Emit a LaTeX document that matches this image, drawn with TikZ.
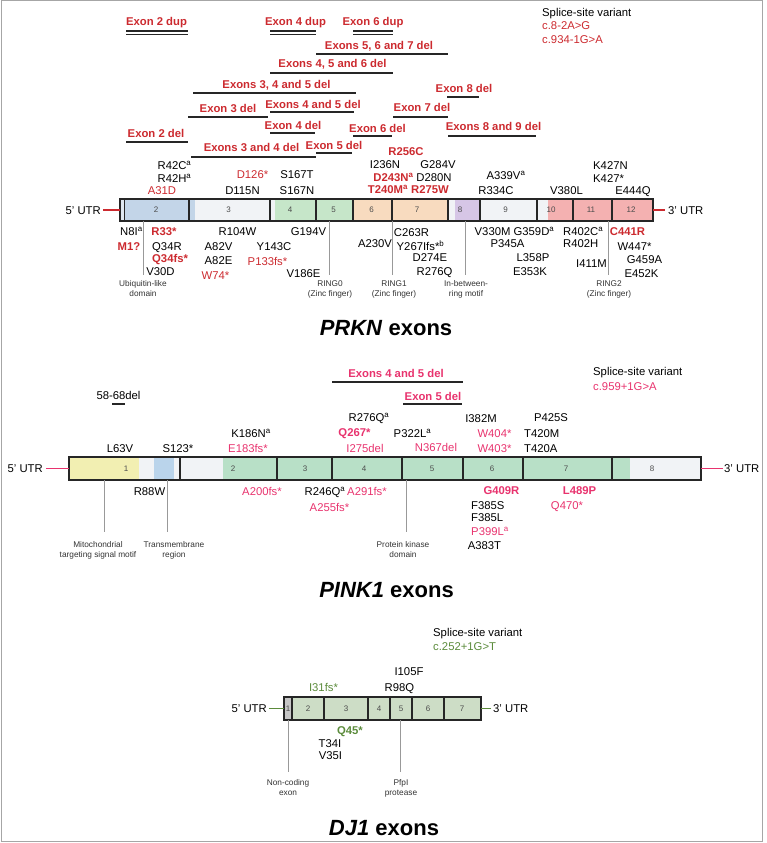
\documentclass[tikz,border=0pt]{standalone}
\usepackage{fontspec}
\setmainfont{Liberation Sans}
\definecolor{prkred}{HTML}{CC2A2F}
\definecolor{pinkc}{HTML}{E8336E}
\definecolor{dgreen}{HTML}{5B8B3B}
\definecolor{lgray}{HTML}{F1F3F6}
\definecolor{prkblue}{HTML}{C3D5E8}
\definecolor{prkgreen}{HTML}{C6E6C9}
\definecolor{prkorange}{HTML}{F8DBBF}
\definecolor{prkpurple}{HTML}{D6C6E6}
\definecolor{prkpink}{HTML}{F4B1B1}
\definecolor{pyellow}{HTML}{F2EFB2}
\definecolor{pblue}{HTML}{BAD4EB}
\definecolor{pgreen}{HTML}{B8E0C7}
\definecolor{jgreen}{HTML}{CDDDC6}
\newcommand{\suA}{\textsuperscript{a}}
\newcommand{\suB}{\textsuperscript{b}}
\begin{document}
\begin{tikzpicture}[x=1pt,y=-1pt,
  t/.style={inner sep=0pt, font=\fontsize{11.3}{13}\selectfont, text height=8.1pt, text depth=0pt},
  tr/.style={t, text=prkred},
  tbr/.style={t, text=prkred, font=\fontsize{11.3}{13}\selectfont\bfseries},
  tp/.style={t, text=pinkc},
  tbp/.style={t, text=pinkc, font=\fontsize{11.3}{13}\selectfont\bfseries},
  tg/.style={t, text=dgreen},
  tbg/.style={t, text=dgreen, font=\fontsize{11.3}{13}\selectfont\bfseries},
  dom/.style={inner sep=0pt, font=\fontsize{8.3}{10}\selectfont, text=black!80, align=center, anchor=north},
  exn/.style={inner sep=0pt, font=\fontsize{8}{9}\selectfont, text=black!70},
  ttl/.style={inner sep=0pt, font=\fontsize{22}{24}\selectfont\bfseries},
  delbar/.style={line width=1.4pt, black!85},
  dupbar/.style={line width=1.1pt, black!85},
  vline/.style={line width=0.7pt, black!40},
  bord/.style={line width=1.2pt, black!85}]
\useasboundingbox (0,0) rectangle (766,843);
\draw[gray!70, line width=1pt] (1,1) rectangle (762,841.5);

%% ================= PRKN =================
% deletions / duplications
\node[tbr] (d1) at (156.5,21) {Exon 2 dup};
\draw[dupbar] (126,31) -- (188,31); \draw[dupbar] (126,34.7) -- (188,34.7);
\node[tbr] (d2) at (295.5,21) {Exon 4 dup};
\draw[dupbar] (270,31) -- (316,31); \draw[dupbar] (270,34.7) -- (316,34.7);
\node[tbr] (d3) at (373,21) {Exon 6 dup};
\draw[dupbar] (353,31) -- (393,31); \draw[dupbar] (353,34.7) -- (393,34.7);
\node[tbr] (d4) at (379,45) {Exons 5, 6 and 7 del};
\draw[delbar] (316,54) -- (448,54);
\node[tbr] (d5) at (332.5,63) {Exons 4, 5 and 6 del};
\draw[delbar] (270,73) -- (393,73);
\node[tbr] (d6) at (276.5,84) {Exons 3, 4 and 5 del};
\draw[delbar] (193,93) -- (356,93);
\node[tbr] (d7) at (228,108) {Exon 3 del};
\draw[delbar] (188,117) -- (268,117);
\node[tbr] (d8) at (313,104) {Exons 4 and 5 del};
\draw[delbar] (270,112) -- (354,112);
\node[tbr] (d9) at (293,125) {Exon 4 del};
\draw[delbar] (270,133) -- (315,133);
\node[tbr] (d10) at (156,133) {Exon 2 del};
\draw[delbar] (126,142) -- (188,142);
\node[tbr] (d11) at (251.5,147) {Exons 3 and 4 del};
\draw[delbar] (191,157) -- (316,157);
\node[tbr] (d12) at (334,145) {Exon 5 del};
\draw[delbar] (316,153) -- (352,153);
\node[tbr] (d13) at (377.5,128) {Exon 6 del};
\draw[delbar] (353,136) -- (392,136);
\node[tbr] (d14) at (422,107) {Exon 7 del};
\draw[delbar] (393,117) -- (448,117);
\node[tbr] (d15) at (464,88) {Exon 8 del};
\draw[delbar] (447,97) -- (479,97);
\node[tbr] (d16) at (493.5,126) {Exons 8 and 9 del};
\draw[delbar] (448,136) -- (536,136);

\node[t, anchor=west] (s1) at (542,12) {Splice-site variant};
\node[tr, anchor=west] (s2) at (542,25.5) {c.8-2A>G};
\node[tr, anchor=west] (s3) at (542,39) {c.934-1G>A};

% bar
\fill[lgray!60!prkblue] (120,199) rectangle (124.3,221);
\fill[prkblue] (124.3,199) rectangle (195,221);
\fill[lgray] (195,199) rectangle (275,221);
\fill[prkgreen] (275,199) rectangle (354,221);
\fill[prkorange] (354,199) rectangle (448,221);
\fill[lgray] (448,199) rectangle (455,221);
\fill[prkpurple] (455,199) rectangle (480,221);
\fill[lgray] (480,199) rectangle (548,221);
\fill[prkpink] (548,199) rectangle (653,221);
\foreach \x in {124.3,189,270,316,353,392,448,480,537,573,612} \draw[bord] (\x,199) -- (\x,221);
\draw[bord] (120,199) rectangle (653,221);
\foreach \x/\n in {156/2,228.5/3,290/4,333.5/5,371.5/6,417/7,460/8,505.5/9,551/10,591/11,631/12}
  \node[exn] (pe\n) at (\x,210) {\n};
\node[t, anchor=east] (u5a) at (101,210) {5' UTR};
\coordinate (u5ab) at (120,210);
\draw[prkred, line width=1.6pt] ([xshift=2pt]u5a.east) -- (u5ab);
\node[t, anchor=west] (u3a) at (668,210) {3' UTR};
\coordinate (u3ab) at (653,210);
\draw[prkred, line width=1.6pt] (u3ab) -- ([xshift=-3pt]u3a.west);

% above
\node[t] (a1) at (174.5,165) {R42C\suA};
\node[t] (a2) at (174.5,178) {R42H\suA};
\node[tr] (a3) at (162,190) {A31D};
\node[tr] (a4) at (252.5,174) {D126*};
\node[t] (a5) at (242.5,190) {D115N};
\node[t] (a6) at (297,174) {S167T};
\node[t] (a7) at (297,190) {S167N};
\node[tbr] (a8) at (406,151) {R256C};
\node[t] (a9) at (385,164) {I236N};
\node[tbr] (a10) at (393.5,177) {D243N\suA};
\node[tbr] (a11) at (388,189) {T240M\suA};
\node[t] (a12) at (438,164) {G284V};
\node[t] (a13) at (434,177) {D280N};
\node[tbr] (a14) at (430,189) {R275W};
\node[t] (a15) at (506,175) {A339V\suA};
\node[t] (a16) at (496,190) {R334C};
\node[t] (a17) at (566.5,190) {V380L};
\node[t, anchor=west] (a18) at (593,165) {K427N};
\node[t, anchor=west] (a19) at (593,178) {K427*};
\node[t] (a20) at (633,190) {E444Q};

% below
\node[t, anchor=west] (b1) at (120,231) {N8I\suA};
\node[tbr] (b2) at (129,246) {M1?};
\node[tbr] (b3) at (164,231) {R33*};
\node[t, anchor=west] (b4) at (152,246) {Q34R};
\node[tbr, anchor=west] (b5) at (152,258.5) {Q34fs*};
\node[t] (b6) at (160.5,271) {V30D};
\node[t] (b7) at (237.5,231) {R104W};
\node[t] (b8) at (218.5,246) {A82V};
\node[t] (b9) at (218.5,260) {A82E};
\node[tr] (b10) at (215.5,275) {W74*};
\node[t] (b11) at (274,246) {Y143C};
\node[tr] (b12) at (267.5,261) {P133fs*};
\node[t] (b13) at (308.5,231) {G194V};
\node[t] (b14) at (303.5,273) {V186E};
\node[t] (b15) at (375,243) {A230V};
\node[t] (b16) at (411.5,232) {C263R};
\node[t] (b17) at (420.5,246) {Y267Ifs*\suB};
\node[t] (b18) at (430,257) {D274E};
\node[t] (b19) at (434.5,271) {R276Q};
\node[t] (b20) at (514.5,231) {V330M G359D\suA};
\node[t] (b21) at (507.5,243) {P345A};
\node[t] (b22) at (533,257) {L358P};
\node[t] (b23) at (530,271) {E353K};
\node[t, anchor=west] (b24) at (563,231) {R402C\suA};
\node[t, anchor=west] (b25) at (563,243) {R402H};
\node[t] (b26) at (591.5,263) {I411M};
\node[tbr] (b27) at (627.5,231) {C441R};
\node[t] (b28) at (634.5,246) {W447*};
\node[t] (b29) at (644.5,259) {G459A};
\node[t] (b30) at (641.5,273) {E452K};

% domains
\foreach \x/\nm in {143/k1,329/k2,392/k3,465/k4,608/k5}{
  \coordinate (\nm t) at (\x,221); \coordinate (\nm b) at (\x,275);
  \draw[vline] (\nm t) -- (\nm b);}
\node[dom] (m1) at (143,280.5) {Ubiquitin-like\\domain};
\node[dom] (m2) at (330,280.5) {RING0\\(Zinc finger)};
\node[dom] (m3) at (394,280.5) {RING1\\(Zinc finger)};
\node[dom] (m4) at (466,280.5) {In-between-\\ring motif};
\node[dom] (m5) at (609,280.5) {RING2\\(Zinc finger)};
\node[ttl] (T1) at (386,328) {\textit{PRKN} exons};

%% ================= PINK1 =================
\node[tbp] (e1) at (396,373) {Exons 4 and 5 del};
\draw[delbar] (332,382) -- (463,382);
\node[tbp] (e2) at (433,396) {Exon 5 del};
\draw[delbar] (403,404) -- (462,404);
\node[t, anchor=west] (s4) at (593,371) {Splice-site variant};
\node[tp, anchor=west] (s5) at (593,386) {c.959+1G>A};
\node[t] (e3) at (118.5,395) {58-68del};
\draw[line width=1.8pt, black!85] (112,404) -- (125,404);

\fill[pyellow] (69,457) rectangle (139,480);
\fill[lgray] (139,457) rectangle (154,480);
\fill[pblue] (154,457) rectangle (174,480);
\fill[lgray] (174,457) rectangle (223,480);
\fill[pgreen] (223,457) rectangle (630,480);
\fill[lgray] (630,457) rectangle (701,480);
\foreach \x in {180,277,332,402,463,523,612} \draw[bord] (\x,457) -- (\x,480);
\draw[bord] (69,457) rectangle (701,480);
\foreach \x/\n in {126/1,233/2,305/3,364/4,432/5,492/6,566/7,652/8}
  \node[exn] (ke\n) at (\x,468.5) {\n};
\node[t, anchor=east] (u5b) at (43,468.5) {5' UTR};
\coordinate (u5bb) at (69,468.5);
\draw[pinkc, line width=1.6pt] ([xshift=3pt]u5b.east) -- (u5bb);
\node[t, anchor=west] (u3b) at (724,468.5) {3' UTR};
\coordinate (u3bb) at (701,468.5);
\draw[pinkc, line width=1.6pt] (u3bb) -- ([xshift=-1pt]u3b.west);

\node[t] (f1) at (120,448) {L63V};
\node[t] (f2) at (178,448) {S123*};
\node[t] (f3) at (251,433) {K186N\suA};
\node[tp] (f4) at (248,448) {E183fs*};
\node[t] (f5) at (369,417) {R276Q\suA};
\node[tbp] (f6) at (354.5,432) {Q267*};
\node[tp] (f7) at (365,448) {I275del};
\node[t] (f8) at (412.5,433) {P322L\suA};
\node[tp] (f9) at (436,447) {N367del};
\node[t] (f10) at (481,418) {I382M};
\node[tp] (f11) at (494.5,433) {W404*};
\node[tp] (f12) at (494.5,448) {W403*};
\node[t] (f13) at (551,417) {P425S};
\node[t, anchor=west] (f14) at (524,433) {T420M};
\node[t, anchor=west] (f15) at (524,448) {T420A};

\node[t] (g1) at (149.5,491) {R88W};
\node[tp] (g2) at (262,491) {A200fs*};
\node[t] (g3) at (325,491) {R246Q\suA};
\node[tp] (g4) at (367,491) {A291fs*};
\node[tp] (g5) at (329.5,507) {A255fs*};
\node[tbp] (g6) at (501.5,490) {G409R};
\node[t, anchor=west] (g7) at (471,505) {F385S};
\node[t, anchor=west] (g8) at (471,517) {F385L};
\node[tp] (g9) at (490,531) {P399L\suA};
\node[t] (g10) at (484.5,545) {A383T};
\node[tbp] (g11) at (579.5,490) {L489P};
\node[tp] (g12) at (567,505) {Q470*};

\foreach \x/\nm in {104/q1,167/q2,406/q3}{
  \coordinate (\nm t) at (\x,480); \coordinate (\nm b) at (\x,532);
  \draw[vline] (\nm t) -- (\nm b);}
\node[dom] (r1) at (98,541.5) {Mitochondrial\\targeting signal motif};
\node[dom] (r2) at (174,541.5) {Transmembrane\\region};
\node[dom] (r3) at (403,541.5) {Protein kinase\\domain};
\node[ttl] (T2) at (386.5,590) {\textit{PINK1} exons};

%% ================= DJ1 =================
\node[t, anchor=west] (s6) at (433,632) {Splice-site variant};
\node[tg, anchor=west] (s7) at (433,646) {c.252+1G>T};
\node[t] (h1) at (409,671) {I105F};
\node[tg] (h2) at (323.5,687) {I31fs*};
\node[t] (h3) at (399.5,687) {R98Q};

\fill[gray!45] (284,697) rectangle (292,720);
\fill[jgreen] (292,697) rectangle (481,720);
\foreach \x in {292,324,368,390,412,444} \draw[bord] (\x,697) -- (\x,720);
\draw[bord] (284,697) rectangle (481,720);
\foreach \x/\n in {288/1,308/2,346/3,379/4,401/5,428/6,462/7}
  \node[exn] (je\n) at (\x,708.5) {\n};
\node[t, anchor=east] (u5c) at (267,708.5) {5' UTR};
\coordinate (u5cb) at (284,708.5);
\draw[dgreen, line width=1.6pt] ([xshift=1.5pt]u5c.east) -- (u5cb);
\node[t, anchor=west] (u3c) at (493,708.5) {3' UTR};
\coordinate (u3cb) at (481,708.5);
\draw[dgreen, line width=1.6pt] (u3cb) -- ([xshift=-2pt]u3c.west);

\node[tbg] (h4) at (350,730) {Q45*};
\node[t] (h5) at (330,743) {T34I};
\node[t] (h6) at (330.5,755) {V35I};

\foreach \x/\nm in {288/w1,400/w2}{
  \coordinate (\nm t) at (\x,720); \coordinate (\nm b) at (\x,772);
  \draw[vline] (\nm t) -- (\nm b);}
\node[dom] (x1) at (288,779.5) {Non-coding\\exon};
\node[dom] (x2) at (401,779.5) {PfpI\\protease};
\node[ttl] (T3) at (384,828) {\textit{DJ1} exons};
\end{tikzpicture}
\end{document}
